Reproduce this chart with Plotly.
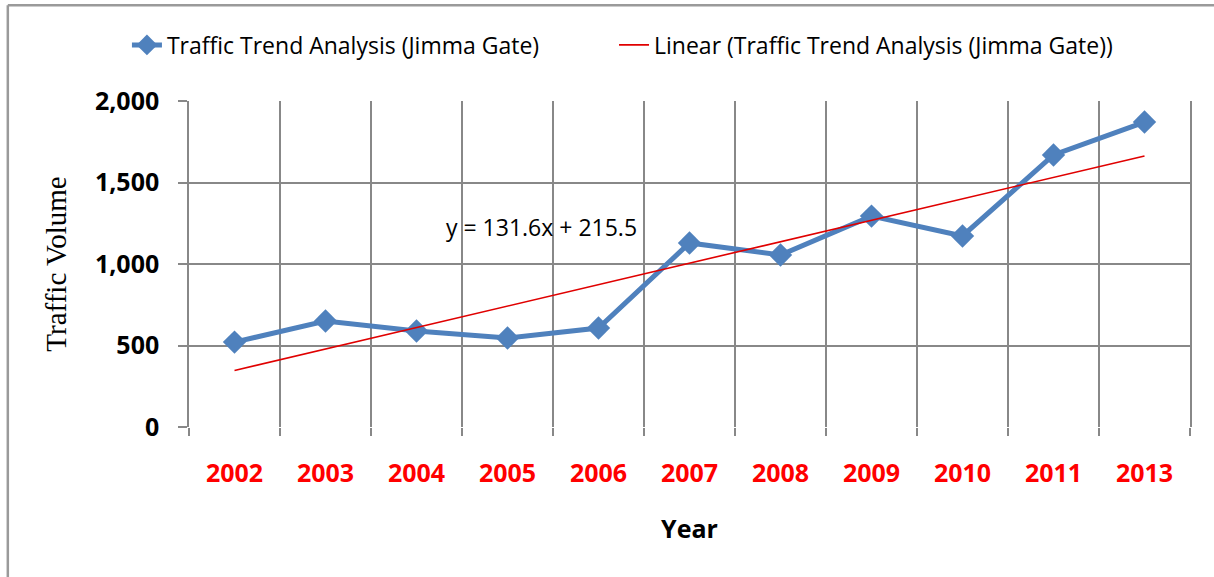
import plotly.graph_objects as go

years = ["2002", "2003", "2004", "2005", "2006", "2007", "2008", "2009", "2010", "2011", "2013"]
traffic = [521, 650, 589, 546, 607, 1129, 1055, 1294, 1172, 1669, 1871]
trend_slope = 131.6
trend_intercept = 215.5
y_ticks = [0, 500, 1000, 1500, 2000]
y_ticktext = ["0", "500", "1,000", "1,500", "2,000"]

idx = list(range(len(years)))
trend = [trend_slope * (i + 1) + trend_intercept for i in idx]

BLUE = "#4F81BD"
GRID = "#888888"
FONT = "Open Sans, DejaVu Sans, sans-serif"

fig = go.Figure()
fig.add_trace(go.Scatter(
    x=idx, y=traffic, mode="lines+markers",
    name="Traffic Trend Analysis (Jimma Gate)",
    line=dict(color=BLUE, width=5),
    marker=dict(symbol="diamond", size=18, color=BLUE),
    legend="legend",
))
fig.add_trace(go.Scatter(
    x=idx, y=trend, mode="lines",
    name="Linear (Traffic Trend Analysis (Jimma Gate))",
    line=dict(color="#E00000", width=1.6),
    legend="legend2",
))

# grid / tick axis at category boundaries
fig.add_trace(go.Scatter(x=[-0.5, 10.5], y=[0, 0], xaxis="x2", mode="lines",
                         line=dict(width=0), hoverinfo="skip", showlegend=False))

legend_common = dict(orientation="h", xanchor="left", y=1.172, yanchor="middle",
                     font=dict(size=23, family=FONT), bgcolor="rgba(0,0,0,0)")

fig.update_layout(
    width=1214, height=577,
    margin=dict(l=189, r=24, t=101, b=150),
    paper_bgcolor="white", plot_bgcolor="white",
    font=dict(family=FONT, color="black"),
    showlegend=True,
    legend=dict(x=-0.062, **legend_common),
    legend2=dict(x=0.4246, **legend_common),
    xaxis=dict(range=[-0.5, 10.5], tickvals=idx, ticktext=years, showgrid=False,
               zeroline=False, ticks="", showline=False,
               tickfont=dict(size=25, color="#FF0000", family=FONT, weight="bold"),
               ticklabelstandoff=29,
               title=dict(text="<b>Year</b>", font=dict(size=25, family=FONT), standoff=32)),
    xaxis2=dict(range=[-0.5, 10.5], overlaying="x", anchor="y", side="bottom",
                tickvals=[i - 0.5 for i in range(len(years) + 1)], showticklabels=False,
                showgrid=True, gridcolor=GRID, gridwidth=1.5, ticks="outside",
                ticklen=8, tickcolor=GRID, tickwidth=1.5, zeroline=False, showline=False),
    yaxis=dict(range=[0, 2000], tickvals=y_ticks, ticktext=y_ticktext, showgrid=True,
               gridcolor=GRID, gridwidth=1.5, zeroline=False, showline=True, mirror=True,
               linecolor=GRID, linewidth=1.5, ticks="outside", ticklen=9,
               tickcolor=GRID, tickwidth=1.5, ticklabelstandoff=14,
               tickfont=dict(size=25, family=FONT, weight="bold"),
               title=dict(text="Traffic Volume",
                          font=dict(size=29, family="Liberation Serif, Times New Roman, serif"),
                          standoff=20)),
)

fig.add_annotation(x=3.37, y=1230, xref="x", yref="y", text="y = 131.6x + 215.5",
                   showarrow=False, font=dict(size=23, family=FONT), xanchor="center")

# chart-area border (top and left edges visible)
fig.add_shape(type="line", xref="paper", yref="paper", x0=-0.181, x1=1.03, y0=1.294, y1=1.294,
              line=dict(color="#9A9A9A", width=2.5))
fig.add_shape(type="line", xref="paper", yref="paper", x0=-0.181, x1=-0.181, y0=1.294, y1=-0.5,
              line=dict(color="#9A9A9A", width=2.5))

fig.write_html("out.html", post_script="document.body.style.margin='0';",
               config={"displayModeBar": False})
